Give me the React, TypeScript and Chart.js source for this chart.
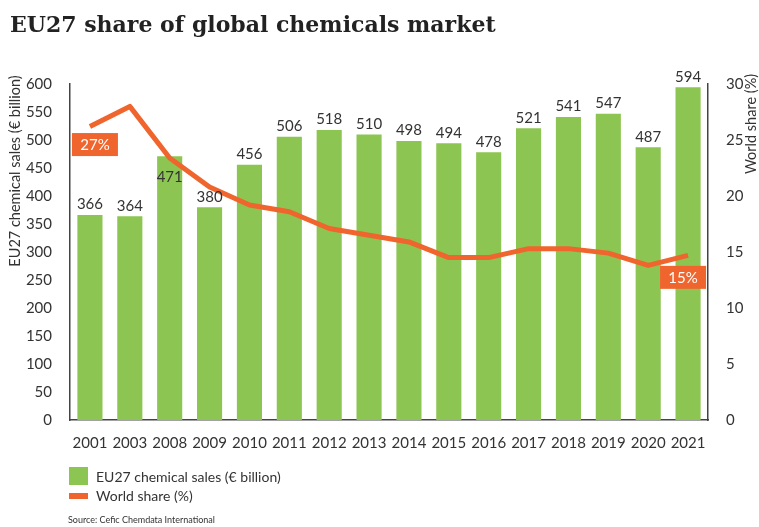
import React, { useEffect, useRef } from 'react';
import { Chart, registerables } from 'chart.js';

Chart.register(...registerables);

const years = ['2001', '2003', '2008', '2009', '2010', '2011', '2012', '2013', '2014', '2015', '2016', '2017', '2018', '2019', '2020', '2021'];
const sales = [366, 364, 471, 380, 456, 506, 518, 510, 498, 494, 478, 521, 541, 547, 487, 594];
const worldShare = [26.2, 28.0, 23.4, 20.8, 19.2, 18.6, 17.1, 16.5, 15.9, 14.5, 14.5, 15.3, 15.3, 14.9, 13.8, 14.7];
const callouts = [
  { index: 0, text: '27%' },
  { index: 15, text: '15%' },
];
const insideLabelIndex = [2];

const GREEN = '#8cc552';
const ORANGE = '#f0652d';
const TEXT = '#333333';
const FONT = 'Lato, "Open Sans", sans-serif';

const overlayPlugin = {
  id: 'overlay',
  afterDatasetsDraw(chart: any) {
    const ctx = chart.ctx;
    const barMeta = chart.getDatasetMeta(1);
    const lineMeta = chart.getDatasetMeta(0);
    ctx.save();
    ctx.font = `15px ${FONT}`;
    ctx.fillStyle = TEXT;
    ctx.textAlign = 'center';
    barMeta.data.forEach((bar: any, i: number) => {
      const v = sales[i];
      if (insideLabelIndex.includes(i)) {
        ctx.textBaseline = 'top';
        ctx.fillText(String(v), bar.x, bar.y + 13);
      } else {
        ctx.textBaseline = 'bottom';
        ctx.fillText(String(v), bar.x, bar.y - 3);
      }
    });
    callouts.forEach((c) => {
      const p = lineMeta.data[c.index];
      const w = 46;
      const h = 23;
      const cx = c.index === 0 ? p.x + 5 : p.x - 5;
      const cy = c.index === 0 ? p.y + 18 : p.y + 22;
      ctx.fillStyle = ORANGE;
      ctx.fillRect(cx - w / 2, cy - h / 2, w, h);
      ctx.fillStyle = '#ffffff';
      ctx.font = `15px ${FONT}`;
      ctx.textBaseline = 'middle';
      ctx.fillText(c.text, cx, cy + 1);
    });
    ctx.fillStyle = TEXT;
    ctx.font = `14.5px ${FONT}`;
    ctx.textBaseline = 'middle';
    ctx.save();
    ctx.translate(15, 171);
    ctx.rotate(-Math.PI / 2);
    ctx.fillText('EU27 chemical sales (€ billion)', 0, 0);
    ctx.restore();
    ctx.save();
    ctx.translate(751, 124);
    ctx.rotate(-Math.PI / 2);
    ctx.fillText('World share (%)', 0, 0);
    ctx.restore();
    ctx.restore();
  },
};

export default function App() {
  const ref = useRef<HTMLCanvasElement>(null);
  useEffect(() => {
    if (!ref.current) return;
    const chart = new Chart(ref.current, {
      type: 'bar',
      data: {
        labels: years,
        datasets: [
          {
            type: 'line',
            label: 'World share (%)',
            data: worldShare,
            yAxisID: 'y1',
            borderColor: ORANGE,
            borderWidth: 5,
            pointRadius: 0,
            tension: 0,
            borderJoinStyle: 'round',
            order: 0,
          } as any,
          {
            type: 'bar',
            label: 'EU27 chemical sales (€ billion)',
            data: sales,
            yAxisID: 'y',
            backgroundColor: GREEN,
            categoryPercentage: 1,
            barPercentage: 0.63,
            order: 1,
          } as any,
        ],
      },
      options: {
        animation: false,
        responsive: true,
        maintainAspectRatio: false,
        layout: { padding: { top: 84, bottom: 62, left: 0, right: 0 } },
        plugins: { legend: { display: false }, tooltip: { enabled: false } },
        scales: {
          x: {
            grid: { display: false },
            border: { display: true, color: '#444', width: 1.5 },
            ticks: { color: TEXT, font: { family: FONT, size: 15 }, padding: 6, maxRotation: 0, autoSkip: false },
            afterFit: (s: any) => { s.height = 45; },
          },
          y: {
            position: 'left',
            min: 0,
            max: 600,
            grid: { display: false },
            border: { display: true, color: '#444', width: 1.5 },
            ticks: { stepSize: 50, color: TEXT, font: { family: FONT, size: 15 }, padding: 10 },
            afterFit: (s: any) => { s.width = 70; },
          },
          y1: {
            position: 'right',
            min: 0,
            max: 30,
            grid: { display: false },
            border: { display: true, color: '#444', width: 1.5 },
            ticks: { stepSize: 5, color: TEXT, font: { family: FONT, size: 15 }, padding: 10 },
            afterFit: (s: any) => { s.width = 51; },
          },
        },
      },
      plugins: [overlayPlugin],
    });
    return () => chart.destroy();
  }, []);

  return (
    <div style={{ position: 'fixed', left: 0, top: 0, width: 759, height: 527, background: '#fff', overflow: 'hidden' }}>
      <div style={{ position: 'absolute', left: 0, top: 0, width: 759, height: 527 }}>
        <canvas ref={ref} />
      </div>
      <div style={{ position: 'absolute', left: 10, top: 11, fontFamily: '"DejaVu Serif", serif', fontWeight: 'bold', fontSize: 22, color: '#222', whiteSpace: 'nowrap' }}>
        EU27 share of global chemicals market
      </div>
      <div style={{ position: 'absolute', left: 69, top: 467, width: 19, height: 18, background: GREEN }} />
      <div style={{ position: 'absolute', left: 96, top: 468, fontFamily: FONT, fontSize: 14, color: TEXT, lineHeight: '18px', whiteSpace: 'nowrap' }}>
        EU27 chemical sales (€ billion)
      </div>
      <div style={{ position: 'absolute', left: 69, top: 493, width: 19, height: 6, background: ORANGE }} />
      <div style={{ position: 'absolute', left: 96, top: 487, fontFamily: FONT, fontSize: 14, color: TEXT, lineHeight: '18px', whiteSpace: 'nowrap' }}>
        World share (%)
      </div>
      <div style={{ position: 'absolute', left: 68, top: 514, fontFamily: FONT, fontSize: 9, color: TEXT, lineHeight: '12px', whiteSpace: 'nowrap' }}>
        Source: Cefic Chemdata International
      </div>
    </div>
  );
}
